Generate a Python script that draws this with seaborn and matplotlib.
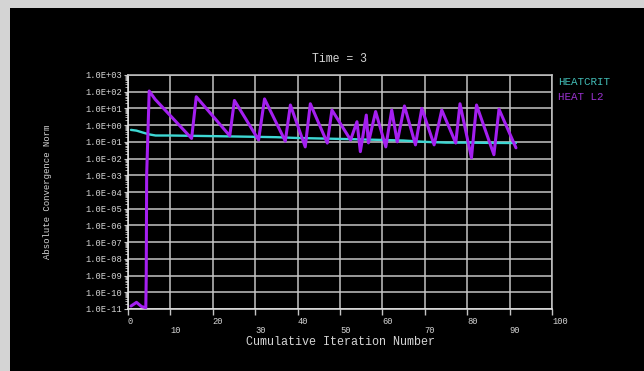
import numpy as np
import pandas as pd
import matplotlib
matplotlib.use("Agg")
import matplotlib.pyplot as plt
import seaborn as sns
from matplotlib.patches import Rectangle
from matplotlib.ticker import FixedLocator, LogLocator, NullFormatter

# HEAT L2 convergence norm (purple)
l2_iter = [0.7, 2.0, 3.2, 4.2, 4.3, 4.4, 5.0, 6.4, 15.0, 16.1, 24.0, 25.1, 30.8, 32.2,
           37.1, 38.3, 41.8, 43.0, 47.0, 48.1, 52.5, 54.0, 54.8, 56.2, 56.7, 58.4,
           60.8, 62.2, 63.5, 65.2, 67.8, 69.3, 72.2, 74.0, 77.3, 78.3, 81.0, 82.2,
           86.3, 87.5, 91.5]
l2_norm = [1.5e-11, 2.5e-11, 1.4e-11, 1.2e-11, 8e-10, 1e-3, 110, 35, 0.16, 50, 0.23, 30,
           0.13, 37, 0.11, 16, 0.05, 19, 0.085, 8, 0.13, 1.6, 0.026, 4, 0.087, 6.5,
           0.05, 8, 0.1, 14, 0.066, 10, 0.066, 8, 0.085, 19, 0.011, 16, 0.017, 9,
           0.044]

# HEATCRIT criterion (cyan)
crit_iter = [0.7, 2.0, 3.5, 5.0, 6.5, 10, 15, 20, 25, 30, 35, 40, 45, 50, 55, 60, 65,
             70, 75, 80, 85, 91.5]
crit_norm = [0.52, 0.47, 0.36, 0.28, 0.24, 0.24, 0.23, 0.22, 0.21, 0.20, 0.19, 0.17,
             0.16, 0.15, 0.14, 0.13, 0.12, 0.10, 0.09, 0.09, 0.087, 0.085]

y_decades = list(range(-11, 4))
x_major = [0, 20, 40, 60, 80, 100]
x_minor = [10, 30, 50, 70, 90]

TXT = "#d6d6d6"
GRID = "#c4c4c4"
PURPLE = "#a41ff0"
CYAN = "#3ed8d4"

sns.set_theme(style="dark")
plt.rcParams["font.family"] = ["Liberation Mono", "DejaVu Sans Mono"]

fig = plt.figure(figsize=(6.44, 3.71), dpi=100, facecolor="#d4d4d4")
fig.patches.append(Rectangle((10 / 644, 0), 1, 1 - 8 / 371, transform=fig.transFigure,
                             facecolor="black", edgecolor="none", zorder=-10))
ax = fig.add_axes([128 / 644, 1 - 309 / 371, 424 / 644, 234 / 371])
ax.set_zorder(1)
ax.set_facecolor("black")

crit_df = pd.DataFrame({"iter": crit_iter, "norm": crit_norm})
l2_df = pd.DataFrame({"iter": l2_iter, "norm": l2_norm})
sns.lineplot(data=crit_df, x="iter", y="norm", ax=ax, color=CYAN, lw=1.7,
             estimator=None, sort=False, label="HEATCRIT", zorder=3)
sns.lineplot(data=l2_df, x="iter", y="norm", ax=ax, color=PURPLE, lw=2.2,
             estimator=None, sort=False, label="HEAT L2", zorder=4)

ax.set_yscale("log")
ax.set_ylim(1e-11, 1e3)
ax.set_xlim(0, 100)

ax.yaxis.set_major_locator(FixedLocator([10.0 ** d for d in y_decades]))
ax.set_yticklabels([f"{10.0 ** d:.1E}" for d in y_decades])
ax.yaxis.set_minor_locator(LogLocator(base=10, subs=np.arange(2, 10), numticks=100))
ax.yaxis.set_minor_formatter(NullFormatter())

ax.set_xticks(x_major)
ax.set_xticklabels([str(v) for v in x_major], ha="left")
ax.set_xticks(x_minor, minor=True)
ax.set_xticklabels([str(v) for v in x_minor], minor=True, ha="left")

ax.tick_params(axis="y", which="major", length=3, width=0.8, color=GRID, pad=1,
               labelsize=6.3, labelcolor=TXT, left=True)
ax.tick_params(axis="y", which="minor", length=2, width=0.6, color=GRID, left=True)
ax.tick_params(axis="x", which="major", length=4, width=1.0, color=GRID, pad=2,
               labelsize=6.3, labelcolor=TXT, bottom=True)
ax.tick_params(axis="x", which="minor", length=4, width=1.0, color=GRID, pad=8.5,
               labelsize=6.3, labelcolor=TXT, bottom=True)

ax.grid(True, which="major", axis="both", color=GRID, lw=1.1, zorder=1)
ax.grid(True, which="minor", axis="x", color=GRID, lw=1.1, zorder=1)
ax.grid(False, which="minor", axis="y")
ax.set_axisbelow(True)
for side in ax.spines.values():
    side.set_visible(True)
    side.set_color(GRID)
    side.set_linewidth(1.1)
ax.spines["bottom"].set_color("#e8e8e8")
ax.spines["left"].set_color("#e8e8e8")

ax.set_title("Time = 3", color=TXT, fontsize=8.3, pad=9)
ax.set_xlabel("Cumulative Iteration Number", color=TXT, fontsize=8.5)
ax.xaxis.set_label_coords(0.5, -0.115)
ax.set_ylabel("Absolute Convergence Norm", color=TXT, fontsize=6.5)
ax.yaxis.set_label_coords(-0.18, 0.5)

leg = ax.legend(loc="upper left", bbox_to_anchor=(1.005, 1.01), frameon=False,
                handlelength=0, handletextpad=0, labelspacing=0.45, fontsize=7.8,
                borderaxespad=0)
for line, text, col in zip(leg.get_lines(), leg.get_texts(), ["#42bcb6", "#9a32d0"]):
    line.set_visible(False)
    text.set_color(col)

fig.savefig("out.png", dpi=100, facecolor=fig.get_facecolor())
